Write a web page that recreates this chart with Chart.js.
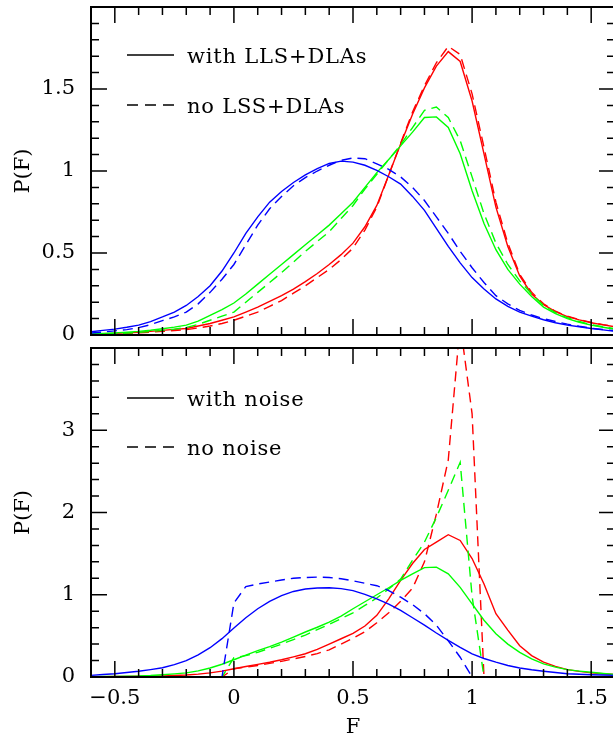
<!DOCTYPE html>
<html>
<head>
<meta charset="utf-8">
<script src="https://cdn.jsdelivr.net/npm/chart.js@4.4.1/dist/chart.umd.min.js"></script>
<style>
    html, body { margin: 0; padding: 0; background: #fff; }
    #wrap { position: relative; width: 613px; height: 738px; overflow: hidden; }
    #wrap canvas { position: absolute; left: 0; }
    #topChart { top: 0; }
    #bottomChart { top: 340px; }
    .key { position: absolute; left: 127px; display: flex; align-items: center; height: 24px;
           font-family: "DejaVu Serif", serif; font-size: 21px; letter-spacing: 0.8px; color: #000; white-space: nowrap; }
    .key svg { display: block; }
    .key span { margin-left: 13px; }
</style>
</head>
<body>
<div id="wrap">
    <canvas id="topChart" width="620" height="345"></canvas>
    <canvas id="bottomChart" width="620" height="398"></canvas>

    <div class="key" style="top:44px"><svg width="47" height="4"><line x1="0" y1="1" x2="47" y2="1" stroke="#000" stroke-width="1.4"/></svg><span>with LLS+DLAs</span></div>
    <div class="key" style="top:94px"><svg width="47" height="4"><line x1="0" y1="1" x2="47" y2="1" stroke="#000" stroke-width="1.4" stroke-dasharray="11 7"/></svg><span>no LSS+DLAs</span></div>
    <div class="key" style="top:387px"><svg width="47" height="4"><line x1="0" y1="1" x2="47" y2="1" stroke="#000" stroke-width="1.4"/></svg><span>with noise</span></div>
    <div class="key" style="top:436px"><svg width="47" height="4"><line x1="0" y1="1" x2="47" y2="1" stroke="#000" stroke-width="1.4" stroke-dasharray="11 7"/></svg><span>no noise</span></div>
</div>

<script>
// Flux bins shared by every curve
const fluxBins = [-0.6, -0.55, -0.5, -0.45, -0.4, -0.35, -0.3, -0.25, -0.2, -0.15, -0.1, -0.05,
    0, 0.05, 0.1, 0.15, 0.2, 0.25, 0.3, 0.35, 0.4, 0.45, 0.5, 0.55, 0.6, 0.65, 0.7, 0.75,
    0.8, 0.85, 0.9, 0.95, 1.0, 1.05, 1.1, 1.15, 1.2, 1.25, 1.3, 1.35, 1.4, 1.45, 1.5, 1.55, 1.6];

const xTicks = [-0.5, 0, 0.5, 1, 1.5];
const yTicksTop = [0, 0.5, 1, 1.5];
const yTicksBottom = [0, 1, 2, 3];

// Upper panel: with / without LLS+DLAs
const topBlueWith = [0.02, 0.028, 0.036, 0.047, 0.06, 0.082, 0.11, 0.14, 0.18, 0.235, 0.30, 0.39,
    0.50, 0.62, 0.72, 0.81, 0.875, 0.93, 0.976, 1.015, 1.046, 1.06, 1.054, 1.035, 1.004, 0.965, 0.92, 0.845,
    0.76, 0.65, 0.54, 0.44, 0.35, 0.28, 0.22, 0.175, 0.14, 0.115, 0.093, 0.075, 0.06, 0.05, 0.04, 0.031, 0.022];
const topBlueNo = [0.012, 0.018, 0.025, 0.033, 0.045, 0.063, 0.088, 0.11, 0.14, 0.19, 0.26, 0.34,
    0.43, 0.55, 0.67, 0.77, 0.845, 0.91, 0.96, 1.0, 1.035, 1.065, 1.08, 1.075, 1.044, 1.01, 0.964, 0.9,
    0.82, 0.72, 0.62, 0.51, 0.41, 0.32, 0.24, 0.19, 0.15, 0.122, 0.1, 0.082, 0.066, 0.053, 0.042, 0.033, 0.026];
const topGreenWith = [0.008, 0.01, 0.013, 0.017, 0.022, 0.029, 0.038, 0.048, 0.06, 0.085, 0.12, 0.155,
    0.195, 0.25, 0.31, 0.37, 0.43, 0.49, 0.55, 0.61, 0.67, 0.74, 0.81, 0.9, 0.99, 1.07, 1.153, 1.237,
    1.326, 1.33, 1.265, 1.105, 0.88, 0.68, 0.52, 0.4, 0.31, 0.235, 0.17, 0.13, 0.1, 0.078, 0.06, 0.047, 0.035];
const topGreenNo = [0.005, 0.007, 0.009, 0.012, 0.016, 0.021, 0.028, 0.036, 0.046, 0.065, 0.09, 0.115,
    0.14, 0.2, 0.26, 0.32, 0.38, 0.445, 0.51, 0.57, 0.63, 0.71, 0.79, 0.89, 0.98, 1.07, 1.16, 1.265,
    1.37, 1.39, 1.326, 1.185, 0.964, 0.74, 0.56, 0.43, 0.33, 0.25, 0.18, 0.137, 0.105, 0.082, 0.063, 0.05, 0.038];
const topRedWith = [0.006, 0.008, 0.01, 0.013, 0.017, 0.022, 0.028, 0.034, 0.04, 0.055, 0.07, 0.09,
    0.11, 0.14, 0.17, 0.205, 0.24, 0.28, 0.325, 0.375, 0.43, 0.49, 0.56, 0.66, 0.79, 0.975, 1.165, 1.346,
    1.507, 1.64, 1.728, 1.668, 1.427, 1.105, 0.78, 0.54, 0.36, 0.25, 0.185, 0.142, 0.112, 0.092, 0.075, 0.062, 0.05];
const topRedNo = [0.004, 0.006, 0.008, 0.01, 0.013, 0.017, 0.022, 0.027, 0.032, 0.043, 0.055, 0.07,
    0.09, 0.115, 0.14, 0.175, 0.21, 0.255, 0.30, 0.35, 0.40, 0.46, 0.53, 0.64, 0.78, 0.975, 1.17, 1.36,
    1.52, 1.66, 1.76, 1.71, 1.47, 1.145, 0.81, 0.56, 0.37, 0.26, 0.19, 0.145, 0.115, 0.094, 0.077, 0.063, 0.052];

// Lower panel: with / without noise
const botBlueWith = [0.02, 0.03, 0.04, 0.054, 0.07, 0.09, 0.113, 0.15, 0.2, 0.27, 0.356, 0.466,
    0.595, 0.72, 0.83, 0.92, 0.99, 1.04, 1.07, 1.082, 1.085, 1.075, 1.05, 1.005, 0.95, 0.885, 0.81, 0.72,
    0.63, 0.535, 0.445, 0.36, 0.28, 0.225, 0.18, 0.14, 0.11, 0.088, 0.07, 0.055, 0.04, 0.033, 0.028, 0.024, 0.02];
const botBlueNo = [0, 0, 0, 0, 0, 0, 0, 0, 0, 0, 0, 0,
    0.9, 1.1, 1.13, 1.155, 1.18, 1.2, 1.21, 1.215, 1.21, 1.195, 1.17, 1.14, 1.11, 1.05, 0.97, 0.88,
    0.77, 0.63, 0.44, 0.24, 0, 0, 0, 0, 0, 0, 0, 0, 0, 0, 0, 0, 0];
const botGreenWith = [0.005, 0.006, 0.008, 0.01, 0.012, 0.018, 0.028, 0.038, 0.05, 0.075, 0.11, 0.155,
    0.21, 0.265, 0.32, 0.37, 0.425, 0.485, 0.547, 0.605, 0.668, 0.74, 0.83, 0.915, 1.0, 1.085, 1.174, 1.255,
    1.33, 1.336, 1.255, 1.09, 0.89, 0.69, 0.526, 0.4, 0.3, 0.22, 0.16, 0.12, 0.09, 0.072, 0.057, 0.042, 0.03];
const botGreenNo = [0, 0, 0, 0, 0, 0, 0, 0, 0, 0, 0, 0,
    0.235, 0.26, 0.30, 0.35, 0.40, 0.455, 0.51, 0.575, 0.64, 0.71, 0.78, 0.87, 0.96, 1.07, 1.19, 1.42,
    1.64, 1.94, 2.27, 2.61, 0.98, 0, 0, 0, 0, 0, 0, 0, 0, 0, 0, 0, 0];
const botRedWith = [0.004, 0.005, 0.006, 0.008, 0.01, 0.011, 0.013, 0.018, 0.024, 0.035, 0.05, 0.072,
    0.1, 0.127, 0.154, 0.18, 0.21, 0.245, 0.283, 0.335, 0.4, 0.465, 0.53, 0.62, 0.75, 0.95, 1.174, 1.38,
    1.55, 1.64, 1.73, 1.66, 1.44, 1.13, 0.77, 0.57, 0.38, 0.26, 0.18, 0.13, 0.09, 0.068, 0.05, 0.04, 0.03];
const botRedNo = [0, 0, 0, 0, 0, 0, 0, 0, 0, 0, 0, 0,
    0.1, 0.12, 0.14, 0.165, 0.19, 0.22, 0.25, 0.285, 0.33, 0.4, 0.47, 0.55, 0.66, 0.78, 0.92, 1.08,
    1.4, 1.98, 2.64, 4.3, 3.2, 0, 0, 0, 0, 0, 0, 0, 0, 0, 0, 0, 0];

const BLUE = '#0000ff', GREEN = '#00ff00', RED = '#ff0000';
const FONT = { family: "'DejaVu Serif', serif", size: 21 };

/**
 * Draws the box frame and inward major/minor ticks on all four sides
 */
const frameTicks = {
    id: 'frameTicks',
    afterDraw(chart, args, opts) {
        const { ctx, chartArea: a, scales: { x, y } } = chart;
        ctx.save();
        ctx.strokeStyle = '#000';
        ctx.lineWidth = 1.5;
        ctx.beginPath();
        for (let i = -6; i <= 16; i++) {
            const px = x.getPixelForValue(i / 10);
            const len = i % 5 === 0 ? 16 : 8;
            ctx.moveTo(px, a.bottom); ctx.lineTo(px, a.bottom - len);
            ctx.moveTo(px, a.top); ctx.lineTo(px, a.top + len);
        }
        for (let i = 0; i <= opts.count; i++) {
            const py = y.getPixelForValue(i * opts.step);
            const len = i % 5 === 0 ? 16 : 8;
            ctx.moveTo(a.left, py); ctx.lineTo(a.left + len, py);
            ctx.moveTo(a.right, py); ctx.lineTo(a.right - len, py);
        }
        ctx.stroke();
        ctx.lineWidth = 2;
        ctx.strokeRect(a.left, a.top, a.right - a.left, a.bottom - a.top);
        ctx.restore();
    }
};

function series(values, color, dashed) {
    return {
        data: fluxBins.map((f, i) => ({ x: f, y: values[i] })),
        borderColor: color,
        borderWidth: 1.4,
        borderDash: dashed ? [10, 6] : [],
        pointRadius: 0,
        tension: 0,
        fill: false
    };
}

function makePanel(id, datasets, yMax, yTicks, step, showX, padTop, xHeight) {
    new Chart(document.getElementById(id), {
        type: 'line',
        data: { datasets },
        options: {
            responsive: false,
            animation: false,
            layout: { padding: { top: padTop, right: 5, left: 0, bottom: 0 } },
            plugins: {
                legend: { display: false },
                tooltip: { enabled: false },
                frameTicks: { step: step, count: Math.round(yMax / step) }
            },
            scales: {
                x: {
                    type: 'linear', min: -0.6, max: 1.6,
                    afterBuildTicks: s => { s.ticks = xTicks.map(v => ({ value: v })); },
                    afterFit: s => { s.height = xHeight; s.paddingLeft = 0; s.paddingRight = 0; },
                    grid: { display: false, drawTicks: false },
                    border: { display: false },
                    ticks: {
                        display: showX, color: '#000', font: FONT, padding: 9, maxRotation: 0,
                        callback: v => v < 0 ? '\u2212' + Math.abs(v) : String(v)
                    },
                    title: {
                        display: showX, text: 'F', color: '#000',
                        font: { family: FONT.family, size: 21, lineHeight: 1 }, padding: { top: 0, bottom: 0 }
                    }
                },
                y: {
                    min: 0, max: yMax,
                    afterBuildTicks: s => { s.ticks = yTicks.map(v => ({ value: v })); },
                    afterFit: s => { s.width = 91; s.paddingTop = 0; s.paddingBottom = 0; },
                    grid: { display: false, drawTicks: false },
                    border: { display: false },
                    ticks: { color: '#000', font: FONT, padding: 16, callback: v => String(v) },
                    title: { display: true, text: 'P(F)', color: '#000', font: FONT, padding: { top: 11, bottom: 0 } }
                }
            }
        },
        plugins: [frameTicks]
    });
}

makePanel('topChart', [
    series(topBlueWith, BLUE, false), series(topBlueNo, BLUE, true),
    series(topGreenWith, GREEN, false), series(topGreenNo, GREEN, true),
    series(topRedWith, RED, false), series(topRedNo, RED, true)
], 2, yTicksTop, 0.1, false, 7, 10);

makePanel('bottomChart', [
    series(botBlueWith, BLUE, false), series(botBlueNo, BLUE, true),
    series(botGreenWith, GREEN, false), series(botGreenNo, GREEN, true),
    series(botRedWith, RED, false), series(botRedNo, RED, true)
], 4, yTicksBottom, 0.2, true, 8, 61);
</script>
</body>
</html>
